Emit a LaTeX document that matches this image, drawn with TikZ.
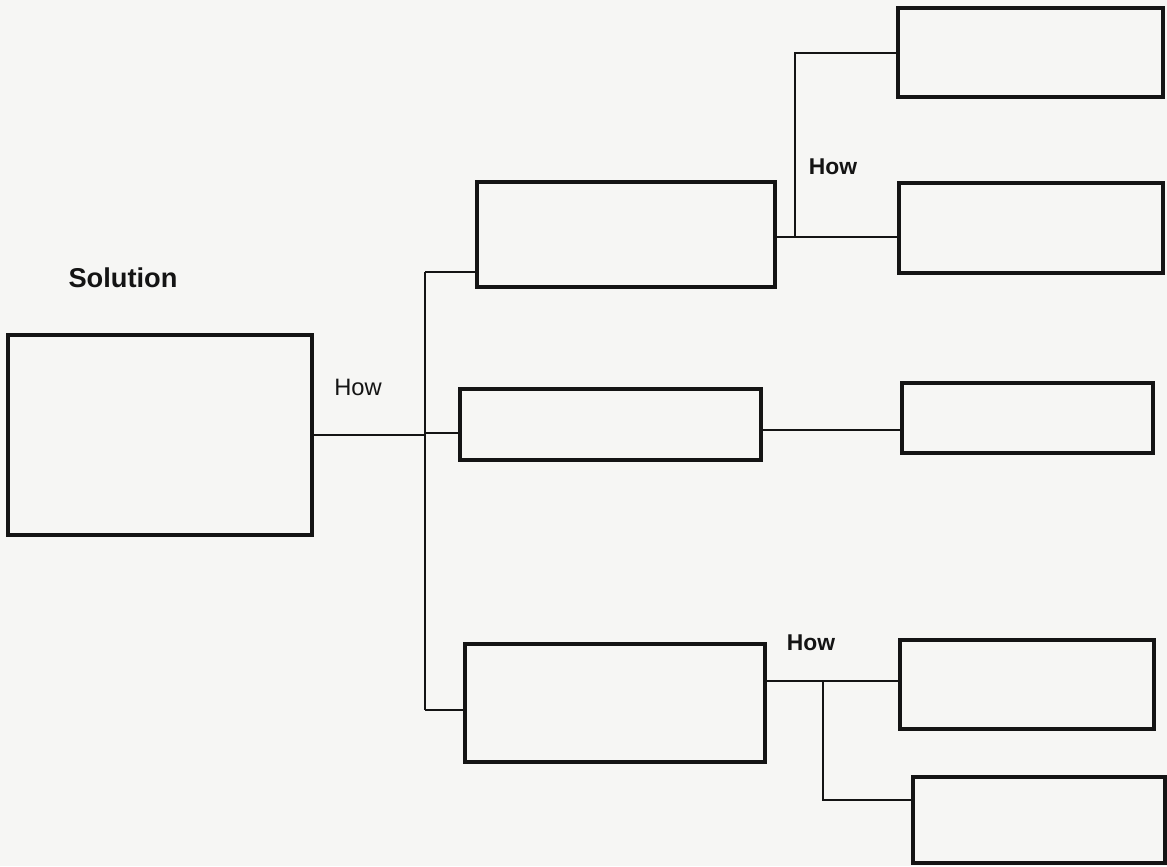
\documentclass[tikz,border=0pt]{standalone}
\usepackage{fontspec}
\setmainfont{Liberation Sans}
\definecolor{paper}{RGB}{246,246,244}
\definecolor{ink}{RGB}{20,20,20}
\begin{document}
\begin{tikzpicture}[x=0.02cm, y=-0.02cm,
  box/.style={draw=ink, line width=2pt, inner sep=0pt},
  link/.style={draw=ink, line width=1.4pt},
  how/.style={text=ink, font=\fontsize{13.5}{16}\selectfont}]
  % page
  \fill[paper] (0,0) rectangle (1167,866);
  \useasboundingbox (0,0) rectangle (1167,866);
  % solution
  \node[box, minimum width=6.08cm, minimum height=4cm] (sol) at (160,435) {};
  \node[text=ink, font=\bfseries\fontsize{15.5}{18}\selectfont] (soltitle) at (123,278) {Solution};
  % first level
  \node[box, minimum width=5.96cm, minimum height=2.1cm] (ma) at (626,234.5) {};
  \node[box, minimum width=6.02cm, minimum height=1.42cm] (mb) at (610.5,424.5) {};
  \node[box, minimum width=6cm, minimum height=2.36cm] (mc) at (615,703) {};
  % second level
  \node[box, minimum width=5.3cm, minimum height=1.78cm] (ra) at (1030.5,52.5) {};
  \node[box, minimum width=5.28cm, minimum height=1.8cm] (rb) at (1031,228) {};
  \node[box, minimum width=5.02cm, minimum height=1.4cm] (rc) at (1027.5,418) {};
  \node[box, minimum width=5.08cm, minimum height=1.78cm] (rd) at (1027,684.5) {};
  \node[box, minimum width=5.04cm, minimum height=1.72cm] (re) at (1039,820) {};
  % trunk
  \coordinate (ttop) at (425,272);
  \coordinate (tmid) at (425,433);
  \coordinate (tbot) at (425,710);
  \draw[link] (sol.east) -- (sol.east -| ttop);
  \draw[link] (ttop) -- (tbot);
  \draw[link] (ttop) -- (ttop -| ma.west);
  \draw[link] (tmid) -- (tmid -| mb.west);
  \draw[link] (tbot) -- (tbot -| mc.west);
  \node[how] (howa) at (358,387) {How};
  % upper branch
  \coordinate (ua) at (795,53);
  \coordinate (ub) at (795,237);
  \draw[link] (ub -| ma.east) -- (ub -| rb.west);
  \draw[link] (ub) -- (ua) -- (ua -| ra.west);
  \node[how, font=\bfseries\fontsize{13}{16}\selectfont] (howb) at (833,167) {How};
  % middle branch
  \coordinate (mr) at (830,430);
  \draw[link] (mr -| mb.east) -- (mr -| rc.west);
  % lower branch
  \coordinate (la) at (823,681);
  \coordinate (lb) at (823,800);
  \draw[link] (la -| mc.east) -- (la -| rd.west);
  \draw[link] (la) -- (lb) -- (lb -| re.west);
  \node[how, font=\bfseries\fontsize{13}{16}\selectfont] (howc) at (811,643) {How};
\end{tikzpicture}
\end{document}
